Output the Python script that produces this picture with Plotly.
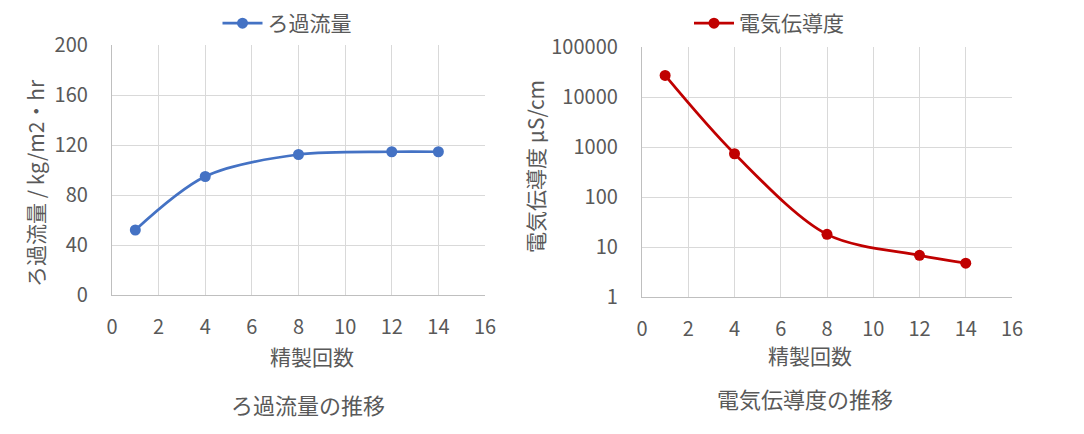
import plotly.graph_objects as go

# Data
cycles = [1, 4, 8, 12, 14]
flux = [52, 94.8, 112.4, 114.6, 114.6]
conductivity = [27000, 733, 17.9, 6.8, 4.75]

flux_name = "ろ過流量"
cond_name = "電気伝導度"
x_title = "精製回数"
flux_ytitle = "ろ過流量 / kg/m2・hr"
cond_ytitle = "電気伝導度 μS/cm"
flux_title = "ろ過流量の推移"
cond_title = "電気伝導度の推移"

x_ticks = [0, 2, 4, 6, 8, 10, 12, 14, 16]
flux_ticks = [0, 40, 80, 120, 160, 200]
cond_ticks = [1, 10, 100, 1000, 10000, 100000]

W, H = 1084, 434
OFF = 8  # page body margin
FONT = "Noto Sans CJK JP"
TXT = "#595959"
GRID = "#d9d9d9"
AXL = "#bfbfbf"

def px(x):
    return (x - OFF) / W

def py(y):
    return 1 - (y - OFF) / H

fig = go.Figure()

fig.add_trace(go.Scatter(
    x=cycles, y=flux, name=flux_name, mode="lines+markers",
    line=dict(color="#4472C4", width=2.75, shape="spline", smoothing=0.9),
    marker=dict(size=11, color="#4472C4"),
    xaxis="x", yaxis="y", legend="legend"))

fig.add_trace(go.Scatter(
    x=cycles, y=conductivity, name=cond_name, mode="lines+markers",
    line=dict(color="#C00000", width=2.75, shape="spline", smoothing=0.9),
    marker=dict(size=11, color="#C00000"),
    xaxis="x2", yaxis="y2", legend="legend2"))

axis_common = dict(showgrid=True, gridcolor=GRID, gridwidth=1.3,
                   showline=True, linecolor=AXL, linewidth=1.3, mirror=False,
                   zeroline=False, ticks="", automargin=False,
                   tickfont=dict(family=FONT, size=20, color=TXT))

legend_common = dict(xanchor="center", yanchor="top", orientation="h",
                     itemwidth=40, borderwidth=0,
                     font=dict(family=FONT, size=21, color=TXT),
                     bgcolor="rgba(0,0,0,0)")

fig.update_layout(
    width=W, height=H,
    margin=dict(l=0, r=0, t=0, b=0, autoexpand=False),
    paper_bgcolor="white", plot_bgcolor="white",
    font=dict(family=FONT, color=TXT),
    xaxis=dict(domain=[px(112), px(485)], range=[0, 16], tickvals=x_ticks,
               anchor="y", ticklabelstandoff=14, **axis_common),
    yaxis=dict(domain=[py(295), py(45)], range=[0, 200], tickvals=flux_ticks,
               anchor="x", ticklabelstandoff=19, **axis_common),
    xaxis2=dict(domain=[px(642), px(1012)], range=[0, 16], tickvals=x_ticks,
                anchor="y2", ticklabelstandoff=14, **axis_common),
    yaxis2=dict(domain=[py(297), py(47)], type="log", range=[0, 5],
                tickvals=cond_ticks, ticktext=[str(v) for v in cond_ticks],
                anchor="x2", ticklabelstandoff=19, **axis_common),
    legend=dict(x=px(287), y=py(3), **legend_common),
    legend2=dict(x=px(769), y=py(3), **legend_common),
    showlegend=True,
)

annos = [
    dict(text=x_title, x=px(312), y=py(356), size=21, angle=0),
    dict(text=x_title, x=px(810), y=py(355), size=21, angle=0),
    dict(text=flux_ytitle, x=px(35), y=py(183), size=21, angle=-90),
    dict(text=cond_ytitle, x=px(535), y=py(167), size=21, angle=-90),
    dict(text=flux_title, x=px(308), y=py(404), size=22, angle=0),
    dict(text=cond_title, x=px(805), y=py(398), size=22, angle=0),
]
for a in annos:
    fig.add_annotation(text=a["text"], x=a["x"], y=a["y"], xref="paper", yref="paper",
                       showarrow=False, xanchor="center", yanchor="middle",
                       textangle=a["angle"],
                       font=dict(family=FONT, size=a["size"], color=TXT))

fig.write_html("out.html")
